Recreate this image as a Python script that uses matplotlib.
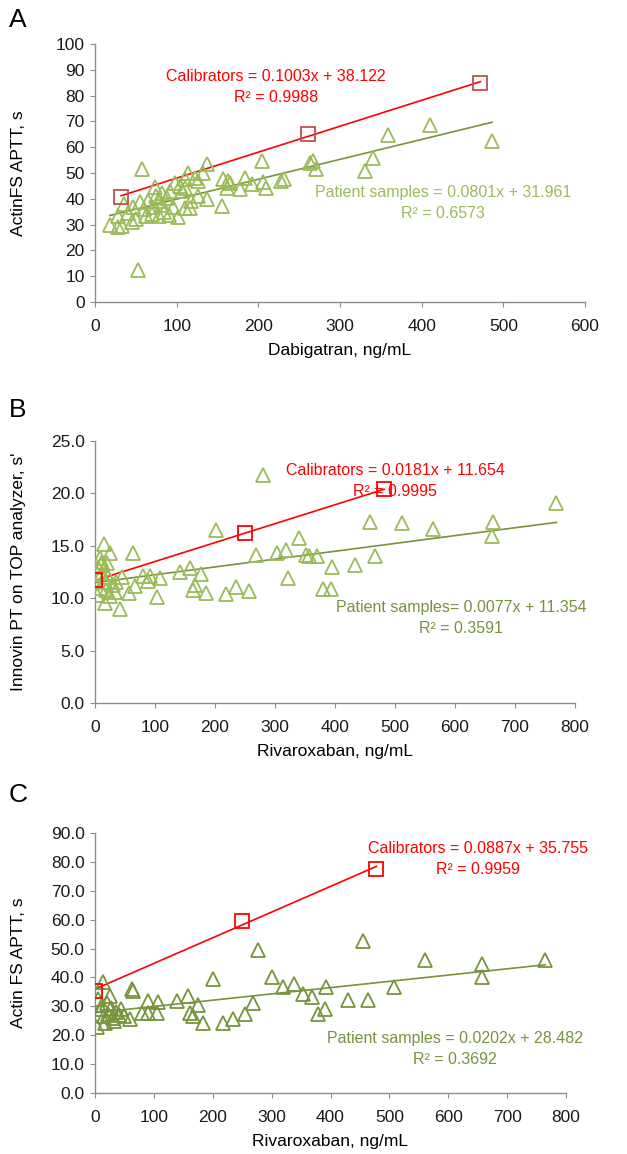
import numpy as np
import matplotlib.pyplot as plt

plt.rcParams['font.family'] = ['Liberation Sans', 'DejaVu Sans']

# ---- Panel A: dabigatran vs ActinFS APTT ----
calA_x = [32, 261, 472]
calA_y = [40.8, 65.0, 85.0]
patA_x = [57, 53, 18, 28, 33, 45, 28, 47, 55, 65, 73, 82, 80, 88, 63, 70, 78, 90,
          71, 82, 95, 98, 106, 110, 114, 122, 126, 110, 104, 102, 110, 116, 126, 137,
          137, 132, 155, 157, 163, 165, 162, 178, 184, 192, 204, 206, 209, 228, 231,
          263, 267, 271, 330, 341, 359, 410, 486, 40, 36, 60, 85, 75, 50, 92, 118]
patA_y = [51.4, 12.3, 30.0, 29.0, 29.5, 31.0, 33.5, 36.7, 38.6, 39.2, 44.4, 42.4, 39.2,
          40.5, 33.5, 34.0, 33.5, 33.8, 37.0, 37.5, 37.0, 46.3, 43.0, 47.5, 50.0, 48.0,
          47.0, 44.0, 45.0, 32.8, 36.5, 36.5, 41.0, 40.0, 53.3, 50.0, 37.3, 47.6, 47.0,
          46.0, 44.0, 43.7, 48.2, 45.6, 54.6, 46.6, 44.0, 47.0, 47.5, 54.0, 54.6, 51.4,
          50.8, 55.9, 64.9, 68.7, 62.3, 34.5, 38.0, 36.0, 35.0, 41.0, 32.0, 43.0, 39.0]
eqA_cal = 'Calibrators = 0.1003x + 38.122\nR² = 0.9988'
eqA_pat = 'Patient samples = 0.0801x + 31.961\nR² = 0.6573'

# ---- Panel B: rivaroxaban vs Innovin PT ----
calB_x = [0, 250, 482]
calB_y = [11.7, 16.2, 20.4]
patB_x = [280, 202, 15, 25, 8, 5, 12, 20, 63, 340, 319, 303, 269, 352, 322, 257, 235,
          219, 185, 164, 166, 177, 159, 142, 104, 108, 92, 80, 89, 67, 57, 42, 17, 3,
          8, 16, 22, 30, 33, 25, 18, 3, 11, 19, 10, 458, 512, 564, 663, 662, 769,
          356, 370, 395, 433, 467, 380, 393, 35, 45]
patB_y = [21.8, 16.5, 15.2, 14.3, 13.8, 13.0, 13.5, 13.4, 14.3, 15.7, 14.6, 14.3, 14.1,
          14.1, 11.9, 10.7, 11.1, 10.4, 10.5, 10.8, 11.3, 12.3, 12.9, 12.5, 10.1, 11.9,
          12.1, 12.1, 11.6, 11.2, 10.5, 9.0, 9.5, 10.3, 11.0, 11.5, 12.0, 11.3, 10.6,
          10.2, 10.8, 12.4, 12.4, 12.4, 13.2, 17.3, 17.2, 16.6, 17.3, 15.9, 19.1, 14.0,
          14.0, 13.0, 13.2, 14.0, 10.9, 10.9, 11.5, 12.0]
eqB_cal = 'Calibrators = 0.0181x + 11.654\nR² = 0.9995'
eqB_pat = 'Patient samples= 0.0077x + 11.354\nR² = 0.3591'

# ---- Panel C: rivaroxaban vs Actin FS APTT ----
calC_x = [0, 250, 478]
calC_y = [35.3, 59.6, 77.7]
patC_x = [277, 201, 300, 319, 338, 62, 65, 14, 25, 5, 12, 20, 28, 35, 40, 30, 22, 15,
          10, 3, 17, 90, 107, 79, 90, 105, 59, 140, 158, 175, 161, 167, 183, 218, 234,
          255, 269, 456, 560, 658, 658, 765, 354, 368, 393, 430, 464, 508, 379, 390,
          45, 50, 33]
patC_y = [49.5, 39.6, 40.1, 36.6, 37.8, 36.0, 35.4, 38.4, 33.7, 32.5, 30.5, 31.0, 29.5,
          28.0, 27.0, 26.0, 27.5, 26.5, 29.0, 22.7, 24.4, 32.0, 31.4, 27.6, 27.6, 27.6,
          25.6, 32.0, 33.7, 30.6, 27.6, 26.5, 24.4, 24.1, 25.6, 27.3, 31.0, 52.7, 46.0,
          44.8, 40.1, 46.0, 34.3, 33.1, 36.6, 32.3, 32.3, 36.6, 27.3, 29.1, 29.0, 26.5,
          25.0]
eqC_cal = 'Calibrators = 0.0887x + 35.755\nR² = 0.9959'
eqC_pat = 'Patient samples = 0.0202x + 28.482\nR² = 0.3692'

W, H = 627, 1154
fig = plt.figure(figsize=(W / 100, H / 100), dpi=100)


def box(l, r, t, b):
    return [l / W, 1 - b / H, (r - l) / W, (b - t) / H]


def fit(x, y):
    m, c = np.polyfit(x, y, 1)
    xs = np.array([min(x), max(x)])
    return xs, m * xs + c


def panel(rect, cx, cy, px, py, xmax, xstep, ymax, ystep, yfmt, xlabel, ylabel,
          sq_col, tri_col, pat_txt_col, eq_cal, cal_pos, eq_pat, pat_pos, letter,
          letter_y):
    ax = fig.add_axes(rect)
    ax.plot(px, py, linestyle='none', marker='^', markersize=10, mfc='none',
            mec=tri_col, mew=1.3, zorder=3)
    xs, ys = fit(px, py)
    ax.plot(xs, ys, color='#77933C', lw=1.2, zorder=2)
    xs, ys = fit(cx, cy)
    ax.plot(xs, ys, color='#FF0000', lw=1.2, zorder=2)
    ax.plot(cx, cy, linestyle='none', marker='s', markersize=9.5, mfc='none',
            mec=sq_col, mew=1.3, zorder=4)
    ax.set_xlim(0, xmax)
    ax.set_ylim(0, ymax)
    ax.set_xticks(np.arange(0, xmax + 1, xstep))
    yt = np.arange(0, ymax + 0.01, ystep)
    ax.set_yticks(yt)
    ax.set_yticklabels([yfmt % v for v in yt])
    for s in ['top', 'right']:
        ax.spines[s].set_visible(False)
    for s in ['left', 'bottom']:
        ax.spines[s].set_color('#8C8C8C')
        ax.spines[s].set_linewidth(1.0)
    ax.tick_params(direction='out', length=3.5, color='#8C8C8C', labelsize=12.5,
                   labelcolor='#1a1a1a')
    ax.tick_params(axis='x', pad=8.5)
    ax.tick_params(axis='y', pad=4)
    ax.set_xlabel(xlabel, fontsize=12.5, labelpad=7)
    ax.set_ylabel(ylabel, fontsize=12.5)
    wpx = rect[2] * W
    ax.yaxis.set_label_coords((26 - rect[0] * W) / wpx, 0.5)
    ax.set_clip_on(False)
    ax.text(cal_pos[0], cal_pos[1], eq_cal, color='#FF0000', fontsize=11.5,
            ha='center', va='center', linespacing=1.45, transform=ax.transAxes)
    ax.text(pat_pos[0], pat_pos[1], eq_pat, color=pat_txt_col, fontsize=11.5,
            ha='center', va='center', linespacing=1.45, transform=ax.transAxes)
    fig.text(9 / W, 1 - letter_y / H, letter, fontsize=19, ha='left', va='center')
    return ax


panel(box(95, 585, 44, 302), calA_x, calA_y, patA_x, patA_y, 600, 100, 100, 10, '%d',
      'Dabigatran, ng/mL', 'ActinFS APTT, s', '#C0504D', '#9BBB59', '#9BBB59',
      eqA_cal, ((276 - 95) / 490, (302 - 87) / 258),
      eqA_pat, ((443 - 95) / 490, (302 - 203) / 258), 'A', 20)

panel(box(95, 575, 441, 703), calB_x, calB_y, patB_x, patB_y, 800, 100, 25, 5, '%.1f',
      'Rivaroxaban, ng/mL', "Innovin PT on TOP analyzer, s'", '#FF0000', '#9BBB59',
      '#77933C',
      eqB_cal, ((395 - 95) / 480, (703 - 481) / 262),
      eqB_pat, ((461 - 95) / 480, (703 - 618) / 262), 'B', 410)

panel(box(95, 566, 833, 1093), calC_x, calC_y, patC_x, patC_y, 800, 100, 90, 10, '%.1f',
      'Rivaroxaban, ng/mL', 'Actin FS APTT, s', '#FF0000', '#77933C', '#77933C',
      eqC_cal, ((478 - 95) / 471, (1093 - 859) / 260),
      eqC_pat, ((455 - 95) / 471, (1093 - 1049) / 260), 'C', 795)

fig.savefig('out.png', dpi=100)
